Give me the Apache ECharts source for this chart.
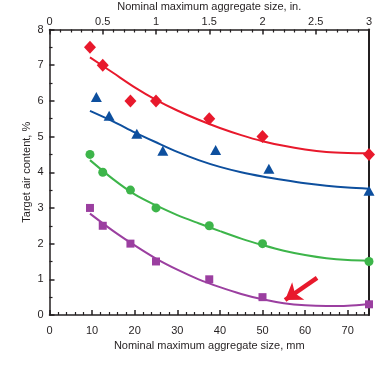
<!DOCTYPE html>
<html><head><meta charset="utf-8">
<script src="https://cdn.jsdelivr.net/npm/echarts@6/dist/echarts.min.js"></script>
<style>html,body{margin:0;padding:0;background:#fff}#c{width:377px;height:365px}</style>
</head><body><div id="c"></div>
<script>
// Measured points (x in mm)
var redX = [9.5, 12.5, 19, 25, 37.5, 50, 75];
var redY = [7.5, 7.0, 6.0, 6.0, 5.5, 5.0, 4.5];
var blueX = [11, 14, 20.5, 26.6, 39, 51.5, 75];
var blueY = [6.11, 5.58, 5.08, 4.6, 4.62, 4.1, 3.48];
var greenX = [9.5, 12.5, 19, 25, 37.5, 50, 75];
var greenY = [4.5, 4.0, 3.5, 3.0, 2.5, 2.0, 1.5];
var purpleX = [9.5, 12.5, 19, 25, 37.5, 50, 75];
var purpleY = [3.0, 2.5, 2.0, 1.5, 1.0, 0.5, 0.3];
// Fitted curves (x in mm)
var curveX = [9.5, 15, 20, 25, 30, 35, 40, 45, 50, 55, 60, 65, 70, 75];
var redCurveY = [7.22, 6.78, 6.38, 6.03, 5.73, 5.47, 5.24, 5.04, 4.87, 4.74, 4.64, 4.57, 4.54, 4.53];
var blueCurveY = [5.72, 5.42, 5.12, 4.84, 4.57, 4.34, 4.15, 4.0, 3.88, 3.78, 3.69, 3.62, 3.57, 3.54];
var greenCurveY = [4.34, 3.8, 3.38, 3.07, 2.8, 2.57, 2.35, 2.14, 1.96, 1.8, 1.68, 1.59, 1.54, 1.52];
var purpleCurveY = [2.84, 2.35, 1.95, 1.58, 1.27, 1.0, 0.78, 0.59, 0.44, 0.33, 0.27, 0.25, 0.26, 0.31];
// Arrow annotation (mm, %)
var arrowFrom = [62.8, 1.04];
var arrowTo = [55.3, 0.42];
// Tick labels
var topLabels = ['0', '0.5', '1', '1.5', '2', '2.5', '3'];

var RED = '#e8192c', BLUE = '#0d4f9e', GREEN = '#3db54a', PURPLE = '#9b3fa0';
var AX = '#231f20';
var FONT = 'Liberation Sans';

function pairs(xs, ys) { return xs.map(function (x, i) { return [x, ys[i]]; }); }

function curve(xs, ys, color, extra) {
  var s = {
    type: 'line', xAxisIndex: 0, yAxisIndex: 0, data: pairs(xs, ys),
    smooth: 0.3, showSymbol: false, symbol: 'none', silent: true,
    lineStyle: { color: color, width: 2 }, z: 3
  };
  if (extra) for (var k in extra) s[k] = extra[k];
  return s;
}
function pts(xs, ys, color, symbol, size) {
  return {
    type: 'scatter', xAxisIndex: 0, yAxisIndex: 0, data: pairs(xs, ys),
    symbol: symbol, symbolSize: size, clip: false, silent: true,
    itemStyle: { color: color, opacity: 1 }, z: 5
  };
}

var chart = echarts.init(document.getElementById('c'), null, { renderer: 'canvas' });
chart.setOption({
  animation: false,
  backgroundColor: '#fff',
  textStyle: { fontFamily: FONT },
  grid: { left: 49.5, right: 8, top: 29.5, bottom: 50, containLabel: false, outerBoundsMode: 'none' },
  xAxis: [
    {
      type: 'value', position: 'bottom', min: 0, max: 75, interval: 10,
      name: 'Nominal maximum aggregate size, mm', nameLocation: 'middle', nameGap: 25, nameMoveOverlap: false,
      nameTextStyle: { fontFamily: FONT, fontSize: 11, color: AX },
      axisLine: { show: true, onZero: false, lineStyle: { color: AX, width: 1.5 } },
      axisTick: { show: true, inside: true, length: 5, lineStyle: { color: AX, width: 1.5 } },
      minorTick: { show: true, splitNumber: 5, length: 3, lineStyle: { color: AX, width: 1.2 } },
      axisLabel: { fontFamily: FONT, fontSize: 11, color: AX, margin: 10, showMaxLabel: false,
        formatter: function (v) { return v > 70 ? '' : String(v); } },
      splitLine: { show: false }
    },
    {
      type: 'value', position: 'top', min: 0, max: 3, interval: 0.5,
      name: 'Nominal maximum aggregate size, in.', nameLocation: 'middle', nameGap: 17, nameMoveOverlap: false,
      nameTextStyle: { fontFamily: FONT, fontSize: 11, color: AX },
      axisLine: { show: true, onZero: false, lineStyle: { color: AX, width: 1.5 } },
      axisTick: { show: true, inside: true, length: 5, lineStyle: { color: AX, width: 1.5 } },
      minorTick: { show: true, splitNumber: 5, length: 3, lineStyle: { color: AX, width: 1.2 } },
      axisLabel: { fontFamily: FONT, fontSize: 11, color: AX, margin: 2,
        formatter: function (v) { var i = Math.round(v / 0.5); return topLabels[i] !== undefined ? topLabels[i] : ''; } },
      splitLine: { show: false }
    }
  ],
  yAxis: [
    {
      type: 'value', position: 'left', min: 0, max: 8, interval: 1,
      name: 'Target air content, %', nameLocation: 'middle', nameGap: 17, nameRotate: 90, nameMoveOverlap: false,
      nameTextStyle: { fontFamily: FONT, fontSize: 11, color: AX },
      axisLine: { show: true, onZero: false, lineStyle: { color: AX, width: 1.5 } },
      axisTick: { show: true, inside: true, length: 5, lineStyle: { color: AX, width: 1.5 } },
      minorTick: { show: true, splitNumber: 2, length: 3, lineStyle: { color: AX, width: 1.2 } },
      axisLabel: { fontFamily: FONT, fontSize: 11, color: AX, margin: 6 },
      splitLine: { show: false }
    },
    {
      type: 'value', position: 'right', min: 0, max: 8, interval: 1,
      axisLine: { show: true, onZero: false, lineStyle: { color: AX, width: 2 } },
      axisTick: { show: false }, axisLabel: { show: false }, splitLine: { show: false }
    }
  ],
  series: [
    curve(curveX, redCurveY, RED),
    curve(curveX, blueCurveY, BLUE),
    curve(curveX, greenCurveY, GREEN),
    curve(curveX, purpleCurveY, PURPLE, {
      markLine: {
        silent: true, symbol: ['none', 'arrow'], symbolSize: [16, 16],
        lineStyle: { color: RED, width: 4.5, type: 'solid', opacity: 1 },
        label: { show: false },
        data: [[{ coord: arrowFrom }, { coord: arrowTo }]]
      }
    }),
    pts(redX, redY, RED, 'diamond', [12, 13]),
    pts(blueX, blueY, BLUE, 'triangle', [11, 10]),
    pts(greenX, greenY, GREEN, 'circle', 9),
    pts(purpleX, purpleY, PURPLE, 'rect', 8)
  ]
});
</script></body></html>
